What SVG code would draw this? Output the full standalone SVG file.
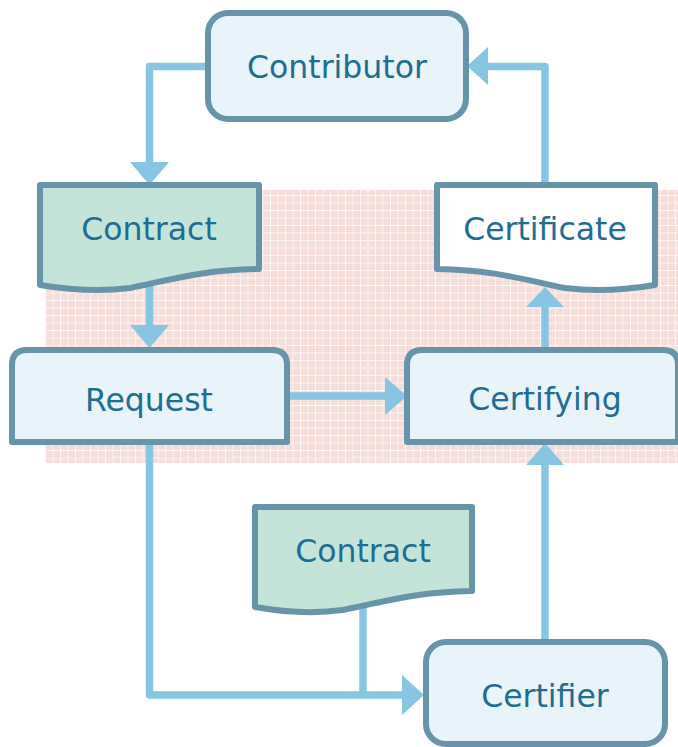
<svg xmlns="http://www.w3.org/2000/svg" width="678" height="747" viewBox="0 0 678 747">
<style>
.box{fill:#e8f3fa;stroke:#6894aa;stroke-width:6;stroke-linejoin:round}
.doc{fill:#c4e4da;stroke:#6894aa;stroke-width:6;stroke-linejoin:round}
.docw{fill:#ffffff;stroke:#6894aa;stroke-width:6;stroke-linejoin:round}
.lbl{font-family:"DejaVu Sans",Verdana,sans-serif;font-size:31.5px;fill:#1f6d93;text-anchor:middle}
.con{fill:none;stroke:#88c5e3;stroke-width:7.5;stroke-linejoin:round}
.ah{fill:#88c5e3}
</style>
<defs>
<pattern id="grid" width="7.5" height="7.5" patternUnits="userSpaceOnUse">
<rect width="7.5" height="7.5" fill="#f4dcd8"/>
<rect x="2" y="2" width="1.5" height="1.5" fill="#f8e6e3"/>
<rect x="5" y="4.5" width="1.5" height="1.5" fill="#f8e6e3"/>
<path d="M0,0.5 H7.5 M0.5,0 V7.5" stroke="#fdf5f4" stroke-width="1"/>
</pattern>
</defs>
<rect x="45" y="190" width="633" height="273" fill="url(#grid)"/>
<g id="connectors">
<path class="con" d="M208,66.5 H149.5 V163"/>
<polygon class="ah" points="130,162 169,162 149.5,185"/>
<path class="con" d="M149.5,286 V326"/>
<polygon class="ah" points="130,325 169,325 149.5,348"/>
<path class="con" d="M287,396 H386"/>
<polygon class="ah" points="385,377 385,415 407,396"/>
<path class="con" d="M545,350 V306"/>
<polygon class="ah" points="526,307 564,307 545,287"/>
<path class="con" d="M545,185 V66.5 H487"/>
<polygon class="ah" points="488,47 488,85 467,66"/>
<path class="con" d="M149.5,442 V695 H403"/>
<polygon class="ah" points="402,675 402,715 424,695"/>
<path class="con" d="M363,606 V695"/>
<path class="con" d="M545,640 V464"/>
<polygon class="ah" points="526,465 564,465 545,443"/>
</g>
<g id="contributor">
<rect class="box" x="208" y="13" width="258" height="106" rx="20"/>
<text class="lbl" x="337" y="78">Contributor</text>
</g>
<g id="contract1">
<path class="doc" d="M40,185 H259 V269 C200,270 170,280 130,288 C100,292 70,290 40,285 Z"/>
<text class="lbl" x="149" y="240">Contract</text>
</g>
<g id="certificate">
<path class="docw" d="M437,185 H655 V285 C625,290 595,292 565,288 C525,280 495,270 437,269 Z"/>
<text class="lbl" x="545" y="240">Certificate</text>
</g>
<g id="request">
<path class="box" d="M12,442 V365 Q12,350 27,350 H272 Q287,350 287,365 V442 Z"/>
<text class="lbl" x="149" y="411">Request</text>
</g>
<g id="certifying">
<path class="box" d="M407,442 V365 Q407,350 422,350 H663 Q678,350 678,365 V442 Z"/>
<text class="lbl" x="545" y="410">Certifying</text>
</g>
<g id="contract2">
<path class="doc" d="M255,507 H472 V591 C413,592 383,602 343,610 C313,614 283,612 255,607 Z"/>
<text class="lbl" x="363" y="562">Contract</text>
</g>
<g id="certifier">
<rect class="box" x="426" y="642" width="239" height="102" rx="20"/>
<text class="lbl" x="545" y="707">Certifier</text>
</g>
</svg>
